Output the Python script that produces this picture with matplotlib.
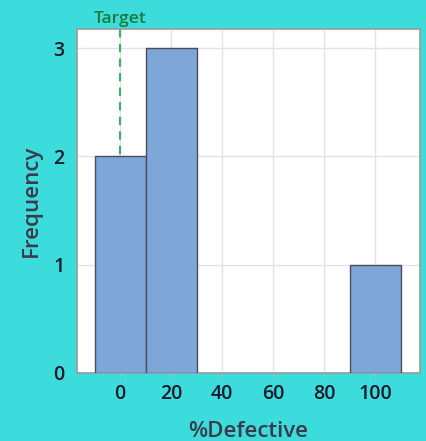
import matplotlib
matplotlib.use("Agg")
import matplotlib.pyplot as plt

bin_centers = [0, 20, 100]
counts = [2, 3, 1]
bin_width = 20
x_ticks = [0, 20, 40, 60, 80, 100]
y_ticks = [0, 1, 2, 3]
target = 0

plt.rcParams['font.family'] = ['Open Sans', 'DejaVu Sans']
bg = '#3ddcdc'
fig = plt.figure(figsize=(4.26, 4.41), dpi=100, facecolor=bg)
ax = fig.add_axes([0.1808, 0.1542, 0.805, 0.7798])
ax.set_facecolor('white')

ax.bar(bin_centers, counts, width=bin_width, color='#7ea6d8', edgecolor='#4d4d5c', linewidth=1.0, zorder=3)
ax.axvline(target, color='#3cb06a', linestyle=(0, (4, 3)), linewidth=1.5, zorder=2)
ax.text(target, 1.005, 'Target', transform=ax.get_xaxis_transform(), ha='center', va='bottom',
        color='#1e7a3c', fontsize=12.5, fontweight='semibold')

ax.set_xlim(-16.9, 117.6)
ax.set_ylim(0, 3.175)
ax.set_xticks(x_ticks)
ax.set_yticks(y_ticks)
ax.grid(True, color='#e3e3e3', linewidth=1.0, zorder=0)
ax.set_axisbelow(True)
for s in ax.spines.values():
    s.set_color('#9a9a9a')
    s.set_linewidth(1.2)
ax.tick_params(axis='x', length=3, color='#bbbbbb', labelsize=14, labelcolor='#1a1a2a', pad=5)
ax.tick_params(axis='y', length=0, labelsize=14, labelcolor='#1a1a2a', pad=9)
for lab in ax.get_xticklabels() + ax.get_yticklabels():
    lab.set_fontweight('semibold')
ax.set_xlabel('%Defective', fontsize=16, color='#3a3a4a', labelpad=12, fontweight='semibold')
ax.set_ylabel('Frequency', fontsize=16, color='#3a3a4a', labelpad=8, fontweight='semibold')

fig.savefig('out.png', dpi=100, facecolor=bg)
